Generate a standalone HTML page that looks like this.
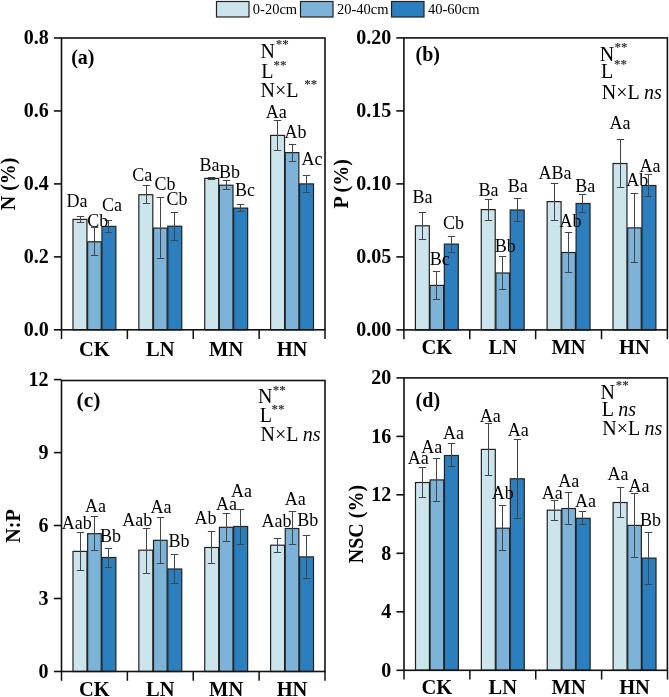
<!DOCTYPE html>
<html><head><meta charset="utf-8"><style>
html,body{margin:0;padding:0;background:#fff;}
svg{display:block;will-change:transform;}
text{font-family:"Liberation Serif", serif;fill:#000;}
.tick{font-size:20px;font-weight:bold;}
.cat{font-size:20.5px;font-weight:bold;}
.title{font-size:20px;font-weight:bold;}
.letter{font-size:20px;font-weight:bold;}
.stat{font-size:20px;}
.sup{font-size:13px;font-weight:bold;fill:#333;}
.lab{font-size:18px;}
.leg{font-size:14.5px;}
</style></head><body>
<svg width="669" height="697" viewBox="0 0 669 697">
<rect x="72.99" y="219.40" width="13.95" height="110.40" fill="#cce5ec" stroke="#222" stroke-width="1.2"/>
<rect x="87.64" y="241.80" width="13.60" height="88.00" fill="#7db3d8" stroke="#222" stroke-width="1.2"/>
<rect x="101.94" y="226.40" width="13.95" height="103.40" fill="#2b7fbe" stroke="#222" stroke-width="1.2"/>
<rect x="138.86" y="194.70" width="13.95" height="135.10" fill="#cce5ec" stroke="#222" stroke-width="1.2"/>
<rect x="153.51" y="228.10" width="13.60" height="101.70" fill="#7db3d8" stroke="#222" stroke-width="1.2"/>
<rect x="167.81" y="226.20" width="13.95" height="103.60" fill="#2b7fbe" stroke="#222" stroke-width="1.2"/>
<rect x="204.74" y="178.40" width="13.95" height="151.40" fill="#cce5ec" stroke="#222" stroke-width="1.2"/>
<rect x="219.39" y="185.20" width="13.60" height="144.60" fill="#7db3d8" stroke="#222" stroke-width="1.2"/>
<rect x="233.69" y="208.10" width="13.95" height="121.70" fill="#2b7fbe" stroke="#222" stroke-width="1.2"/>
<rect x="270.61" y="135.40" width="13.95" height="194.40" fill="#cce5ec" stroke="#222" stroke-width="1.2"/>
<rect x="285.26" y="152.60" width="13.60" height="177.20" fill="#7db3d8" stroke="#222" stroke-width="1.2"/>
<rect x="299.56" y="183.90" width="13.95" height="145.90" fill="#2b7fbe" stroke="#222" stroke-width="1.2"/>
<path d="M80.50 216.50V222.50M76.80 216.50H84.20M76.80 222.50H84.20" stroke="#444" stroke-width="1" fill="none"/>
<path d="M94.50 227.50V255.50M90.80 227.50H98.20M90.80 255.50H98.20" stroke="#444" stroke-width="1" fill="none"/>
<path d="M108.50 220.50V232.50M104.80 220.50H112.20M104.80 232.50H112.20" stroke="#444" stroke-width="1" fill="none"/>
<path d="M146.50 185.50V203.50M142.80 185.50H150.20M142.80 203.50H150.20" stroke="#444" stroke-width="1" fill="none"/>
<path d="M160.50 197.50V258.50M156.80 197.50H164.20M156.80 258.50H164.20" stroke="#444" stroke-width="1" fill="none"/>
<path d="M174.50 212.50V240.50M170.80 212.50H178.20M170.80 240.50H178.20" stroke="#444" stroke-width="1" fill="none"/>
<path d="M211.50 177.50V179.50M207.80 177.50H215.20M207.80 179.50H215.20" stroke="#444" stroke-width="1" fill="none"/>
<path d="M226.50 180.50V189.50M222.80 180.50H230.20M222.80 189.50H230.20" stroke="#444" stroke-width="1" fill="none"/>
<path d="M240.50 204.50V211.50M236.80 204.50H244.20M236.80 211.50H244.20" stroke="#444" stroke-width="1" fill="none"/>
<path d="M277.50 120.50V150.50M273.80 120.50H281.20M273.80 150.50H281.20" stroke="#444" stroke-width="1" fill="none"/>
<path d="M292.50 144.50V161.50M288.80 144.50H296.20M288.80 161.50H296.20" stroke="#444" stroke-width="1" fill="none"/>
<path d="M306.50 175.50V192.50M302.80 175.50H310.20M302.80 192.50H310.20" stroke="#444" stroke-width="1" fill="none"/>
<text x="66.40" y="207.40" class="lab">Da</text>
<text x="87.20" y="227.40" class="lab">Cb</text>
<text x="101.90" y="210.70" class="lab">Ca</text>
<text x="132.30" y="180.70" class="lab">Ca</text>
<text x="154.40" y="189.70" class="lab">Cb</text>
<text x="166.50" y="205.10" class="lab">Cb</text>
<text x="199.40" y="170.90" class="lab">Ba</text>
<text x="219.10" y="177.70" class="lab">Bb</text>
<text x="234.90" y="196.20" class="lab">Bc</text>
<text x="265.80" y="117.60" class="lab">Aa</text>
<text x="284.40" y="138.00" class="lab">Ab</text>
<text x="301.50" y="164.50" class="lab">Ac</text>
<rect x="61.5" y="38.0" width="263.50" height="291.80" fill="none" stroke="#111" stroke-width="1.6"/>
<path d="M53.90 329.8H61.5" stroke="#111" stroke-width="1.6"/>
<text x="48.7" y="336.10" class="tick" text-anchor="end">0.0</text>
<path d="M53.90 256.85H61.5" stroke="#111" stroke-width="1.6"/>
<text x="48.7" y="263.15" class="tick" text-anchor="end">0.2</text>
<path d="M53.90 183.9H61.5" stroke="#111" stroke-width="1.6"/>
<text x="48.7" y="190.20" class="tick" text-anchor="end">0.4</text>
<path d="M53.90 110.95H61.5" stroke="#111" stroke-width="1.6"/>
<text x="48.7" y="117.25" class="tick" text-anchor="end">0.6</text>
<path d="M53.90 38.0H61.5" stroke="#111" stroke-width="1.6"/>
<text x="48.7" y="44.30" class="tick" text-anchor="end">0.8</text>
<path d="M61.50 329.8V339.10" stroke="#111" stroke-width="1.5"/>
<path d="M127.38 329.8V339.10" stroke="#111" stroke-width="1.5"/>
<path d="M193.25 329.8V339.10" stroke="#111" stroke-width="1.5"/>
<path d="M259.12 329.8V339.10" stroke="#111" stroke-width="1.5"/>
<path d="M325.00 329.8V339.10" stroke="#111" stroke-width="1.5"/>
<text x="94.44" y="355.70" class="cat" text-anchor="middle">CK</text>
<text x="160.31" y="355.70" class="cat" text-anchor="middle">LN</text>
<text x="226.19" y="355.70" class="cat" text-anchor="middle">MN</text>
<text x="292.06" y="355.70" class="cat" text-anchor="middle">HN</text>
<text transform="translate(15.0 183.90) rotate(-90)" class="title" text-anchor="middle">N (%)</text>
<text x="71.2" y="63.8" class="letter" style="font-size:20px">(a)</text>
<text x="275.70" y="48.30" class="sup">**</text>
<text x="260.60" y="58.30" class="stat" xml:space="preserve">N</text>
<text x="273.50" y="68.50" class="sup">**</text>
<text x="261.20" y="77.50" class="stat" xml:space="preserve">L</text>
<text x="304.30" y="87.60" class="sup">**</text>
<text x="260.60" y="97.30" class="stat" xml:space="preserve">N×L</text>
<rect x="415.39" y="225.80" width="13.95" height="104.10" fill="#cce5ec" stroke="#222" stroke-width="1.2"/>
<rect x="430.04" y="285.40" width="13.60" height="44.50" fill="#7db3d8" stroke="#222" stroke-width="1.2"/>
<rect x="444.34" y="244.10" width="13.95" height="85.80" fill="#2b7fbe" stroke="#222" stroke-width="1.2"/>
<rect x="481.26" y="209.60" width="13.95" height="120.30" fill="#cce5ec" stroke="#222" stroke-width="1.2"/>
<rect x="495.91" y="273.00" width="13.60" height="56.90" fill="#7db3d8" stroke="#222" stroke-width="1.2"/>
<rect x="510.21" y="210.00" width="13.95" height="119.90" fill="#2b7fbe" stroke="#222" stroke-width="1.2"/>
<rect x="547.14" y="201.60" width="13.95" height="128.30" fill="#cce5ec" stroke="#222" stroke-width="1.2"/>
<rect x="561.79" y="252.50" width="13.60" height="77.40" fill="#7db3d8" stroke="#222" stroke-width="1.2"/>
<rect x="576.09" y="203.50" width="13.95" height="126.40" fill="#2b7fbe" stroke="#222" stroke-width="1.2"/>
<rect x="613.01" y="163.50" width="13.95" height="166.40" fill="#cce5ec" stroke="#222" stroke-width="1.2"/>
<rect x="627.66" y="227.90" width="13.60" height="102.00" fill="#7db3d8" stroke="#222" stroke-width="1.2"/>
<rect x="641.96" y="185.50" width="13.95" height="144.40" fill="#2b7fbe" stroke="#222" stroke-width="1.2"/>
<path d="M422.50 212.50V239.50M418.80 212.50H426.20M418.80 239.50H426.20" stroke="#444" stroke-width="1" fill="none"/>
<path d="M436.50 271.50V299.50M432.80 271.50H440.20M432.80 299.50H440.20" stroke="#444" stroke-width="1" fill="none"/>
<path d="M451.50 236.50V252.50M447.80 236.50H455.20M447.80 252.50H455.20" stroke="#444" stroke-width="1" fill="none"/>
<path d="M488.50 199.50V220.50M484.80 199.50H492.20M484.80 220.50H492.20" stroke="#444" stroke-width="1" fill="none"/>
<path d="M502.50 256.50V289.50M498.80 256.50H506.20M498.80 289.50H506.20" stroke="#444" stroke-width="1" fill="none"/>
<path d="M517.50 198.50V221.50M513.80 198.50H521.20M513.80 221.50H521.20" stroke="#444" stroke-width="1" fill="none"/>
<path d="M554.50 183.50V220.50M550.80 183.50H558.20M550.80 220.50H558.20" stroke="#444" stroke-width="1" fill="none"/>
<path d="M568.50 232.50V272.50M564.80 232.50H572.20M564.80 272.50H572.20" stroke="#444" stroke-width="1" fill="none"/>
<path d="M582.50 194.50V212.50M578.80 194.50H586.20M578.80 212.50H586.20" stroke="#444" stroke-width="1" fill="none"/>
<path d="M620.50 139.50V187.50M616.80 139.50H624.20M616.80 187.50H624.20" stroke="#444" stroke-width="1" fill="none"/>
<path d="M634.50 193.50V262.50M630.80 193.50H638.20M630.80 262.50H638.20" stroke="#444" stroke-width="1" fill="none"/>
<path d="M648.50 174.50V196.50M644.80 174.50H652.20M644.80 196.50H652.20" stroke="#444" stroke-width="1" fill="none"/>
<text x="412.60" y="202.90" class="lab">Ba</text>
<text x="429.70" y="265.10" class="lab">Bc</text>
<text x="443.00" y="229.10" class="lab">Cb</text>
<text x="478.50" y="196.10" class="lab">Ba</text>
<text x="494.70" y="252.10" class="lab">Bb</text>
<text x="507.80" y="192.20" class="lab">Ba</text>
<text x="538.40" y="178.80" class="lab">ABa</text>
<text x="559.40" y="227.40" class="lab">Ab</text>
<text x="575.20" y="191.70" class="lab">Ba</text>
<text x="609.60" y="129.30" class="lab">Aa</text>
<text x="626.30" y="186.20" class="lab">Ab</text>
<text x="639.40" y="172.20" class="lab">Aa</text>
<rect x="403.9" y="37.9" width="263.50" height="292.00" fill="none" stroke="#111" stroke-width="1.6"/>
<path d="M396.30 329.9H403.9" stroke="#111" stroke-width="1.6"/>
<text x="391.2" y="336.20" class="tick" text-anchor="end">0.00</text>
<path d="M396.30 256.9H403.9" stroke="#111" stroke-width="1.6"/>
<text x="391.2" y="263.20" class="tick" text-anchor="end">0.05</text>
<path d="M396.30 183.9H403.9" stroke="#111" stroke-width="1.6"/>
<text x="391.2" y="190.20" class="tick" text-anchor="end">0.10</text>
<path d="M396.30 110.9H403.9" stroke="#111" stroke-width="1.6"/>
<text x="391.2" y="117.20" class="tick" text-anchor="end">0.15</text>
<path d="M396.30 37.9H403.9" stroke="#111" stroke-width="1.6"/>
<text x="391.2" y="44.20" class="tick" text-anchor="end">0.20</text>
<path d="M403.90 329.9V339.20" stroke="#111" stroke-width="1.5"/>
<path d="M469.77 329.9V339.20" stroke="#111" stroke-width="1.5"/>
<path d="M535.65 329.9V339.20" stroke="#111" stroke-width="1.5"/>
<path d="M601.52 329.9V339.20" stroke="#111" stroke-width="1.5"/>
<path d="M667.40 329.9V339.20" stroke="#111" stroke-width="1.5"/>
<text x="436.84" y="354.00" class="cat" text-anchor="middle">CK</text>
<text x="502.71" y="354.00" class="cat" text-anchor="middle">LN</text>
<text x="568.59" y="354.00" class="cat" text-anchor="middle">MN</text>
<text x="634.46" y="354.00" class="cat" text-anchor="middle">HN</text>
<text transform="translate(347.7 183.90) rotate(-90)" class="title" text-anchor="middle">P (%)</text>
<text x="415.5" y="60.5" class="letter" style="font-size:20px">(b)</text>
<text x="614.50" y="51.10" class="sup">**</text>
<text x="599.80" y="61.10" class="stat" xml:space="preserve">N</text>
<text x="613.90" y="68.20" class="sup">**</text>
<text x="601.00" y="77.80" class="stat" xml:space="preserve">L</text>
<text x="601.80" y="98.90" class="stat" xml:space="preserve">N×L <tspan font-style="italic">ns</tspan></text>
<rect x="72.99" y="551.40" width="13.95" height="120.10" fill="#cce5ec" stroke="#222" stroke-width="1.2"/>
<rect x="87.64" y="533.70" width="13.60" height="137.80" fill="#7db3d8" stroke="#222" stroke-width="1.2"/>
<rect x="101.94" y="557.50" width="13.95" height="114.00" fill="#2b7fbe" stroke="#222" stroke-width="1.2"/>
<rect x="138.86" y="550.20" width="13.95" height="121.30" fill="#cce5ec" stroke="#222" stroke-width="1.2"/>
<rect x="153.51" y="540.30" width="13.60" height="131.20" fill="#7db3d8" stroke="#222" stroke-width="1.2"/>
<rect x="167.81" y="569.00" width="13.95" height="102.50" fill="#2b7fbe" stroke="#222" stroke-width="1.2"/>
<rect x="204.74" y="547.50" width="13.95" height="124.00" fill="#cce5ec" stroke="#222" stroke-width="1.2"/>
<rect x="219.39" y="527.30" width="13.60" height="144.20" fill="#7db3d8" stroke="#222" stroke-width="1.2"/>
<rect x="233.69" y="526.50" width="13.95" height="145.00" fill="#2b7fbe" stroke="#222" stroke-width="1.2"/>
<rect x="270.61" y="545.20" width="13.95" height="126.30" fill="#cce5ec" stroke="#222" stroke-width="1.2"/>
<rect x="285.26" y="528.50" width="13.60" height="143.00" fill="#7db3d8" stroke="#222" stroke-width="1.2"/>
<rect x="299.56" y="556.90" width="13.95" height="114.60" fill="#2b7fbe" stroke="#222" stroke-width="1.2"/>
<path d="M80.50 532.50V570.50M76.80 532.50H84.20M76.80 570.50H84.20" stroke="#444" stroke-width="1" fill="none"/>
<path d="M94.50 516.50V550.50M90.80 516.50H98.20M90.80 550.50H98.20" stroke="#444" stroke-width="1" fill="none"/>
<path d="M108.50 548.50V567.50M104.80 548.50H112.20M104.80 567.50H112.20" stroke="#444" stroke-width="1" fill="none"/>
<path d="M146.50 528.50V573.50M142.80 528.50H150.20M142.80 573.50H150.20" stroke="#444" stroke-width="1" fill="none"/>
<path d="M160.50 517.50V563.50M156.80 517.50H164.20M156.80 563.50H164.20" stroke="#444" stroke-width="1" fill="none"/>
<path d="M174.50 554.50V583.50M170.80 554.50H178.20M170.80 583.50H178.20" stroke="#444" stroke-width="1" fill="none"/>
<path d="M211.50 531.50V563.50M207.80 531.50H215.20M207.80 563.50H215.20" stroke="#444" stroke-width="1" fill="none"/>
<path d="M226.50 513.50V541.50M222.80 513.50H230.20M222.80 541.50H230.20" stroke="#444" stroke-width="1" fill="none"/>
<path d="M240.50 509.50V544.50M236.80 509.50H244.20M236.80 544.50H244.20" stroke="#444" stroke-width="1" fill="none"/>
<path d="M277.50 538.50V552.50M273.80 538.50H281.20M273.80 552.50H281.20" stroke="#444" stroke-width="1" fill="none"/>
<path d="M292.50 511.50V544.50M288.80 511.50H296.20M288.80 544.50H296.20" stroke="#444" stroke-width="1" fill="none"/>
<path d="M306.50 535.50V578.50M302.80 535.50H310.20M302.80 578.50H310.20" stroke="#444" stroke-width="1" fill="none"/>
<text x="61.80" y="528.80" class="lab">Aab</text>
<text x="84.90" y="511.70" class="lab">Aa</text>
<text x="100.00" y="542.30" class="lab">Bb</text>
<text x="122.20" y="526.30" class="lab">Aab</text>
<text x="150.50" y="513.40" class="lab">Aa</text>
<text x="168.60" y="547.00" class="lab">Bb</text>
<text x="194.40" y="524.40" class="lab">Ab</text>
<text x="216.10" y="510.30" class="lab">Aa</text>
<text x="231.00" y="497.40" class="lab">Aa</text>
<text x="261.60" y="527.20" class="lab">Aab</text>
<text x="284.80" y="504.50" class="lab">Aa</text>
<text x="297.20" y="525.80" class="lab">Bb</text>
<rect x="61.5" y="380.5" width="263.50" height="291.00" fill="none" stroke="#111" stroke-width="1.6"/>
<path d="M53.90 671.5H61.5" stroke="#111" stroke-width="1.6"/>
<text x="48.5" y="677.80" class="tick" text-anchor="end">0</text>
<path d="M53.90 598.5H61.5" stroke="#111" stroke-width="1.6"/>
<text x="48.5" y="604.80" class="tick" text-anchor="end">3</text>
<path d="M53.90 525.5H61.5" stroke="#111" stroke-width="1.6"/>
<text x="48.5" y="531.80" class="tick" text-anchor="end">6</text>
<path d="M53.90 452.6H61.5" stroke="#111" stroke-width="1.6"/>
<text x="48.5" y="458.90" class="tick" text-anchor="end">9</text>
<path d="M53.90 379.6H61.5" stroke="#111" stroke-width="1.6"/>
<text x="48.5" y="385.90" class="tick" text-anchor="end">12</text>
<path d="M61.50 671.5V680.80" stroke="#111" stroke-width="1.5"/>
<path d="M127.38 671.5V680.80" stroke="#111" stroke-width="1.5"/>
<path d="M193.25 671.5V680.80" stroke="#111" stroke-width="1.5"/>
<path d="M259.12 671.5V680.80" stroke="#111" stroke-width="1.5"/>
<path d="M325.00 671.5V680.80" stroke="#111" stroke-width="1.5"/>
<text x="94.44" y="695.60" class="cat" text-anchor="middle">CK</text>
<text x="160.31" y="695.60" class="cat" text-anchor="middle">LN</text>
<text x="226.19" y="695.60" class="cat" text-anchor="middle">MN</text>
<text x="292.06" y="695.60" class="cat" text-anchor="middle">HN</text>
<text transform="translate(20.2 526.00) rotate(-90)" class="title" text-anchor="middle">N:P</text>
<text x="76.5" y="406.9" class="letter" style="font-size:21.5px">(c)</text>
<text x="272.70" y="393.50" class="sup">**</text>
<text x="257.90" y="402.50" class="stat" xml:space="preserve">N</text>
<text x="271.50" y="412.90" class="sup">**</text>
<text x="259.80" y="422.00" class="stat" xml:space="preserve">L</text>
<text x="260.60" y="440.60" class="stat" xml:space="preserve">N×L <tspan font-style="italic">ns</tspan></text>
<rect x="415.49" y="482.50" width="13.95" height="187.80" fill="#cce5ec" stroke="#222" stroke-width="1.2"/>
<rect x="430.14" y="479.90" width="13.60" height="190.40" fill="#7db3d8" stroke="#222" stroke-width="1.2"/>
<rect x="444.44" y="455.50" width="13.95" height="214.80" fill="#2b7fbe" stroke="#222" stroke-width="1.2"/>
<rect x="481.36" y="449.40" width="13.95" height="220.90" fill="#cce5ec" stroke="#222" stroke-width="1.2"/>
<rect x="496.01" y="528.20" width="13.60" height="142.10" fill="#7db3d8" stroke="#222" stroke-width="1.2"/>
<rect x="510.31" y="478.80" width="13.95" height="191.50" fill="#2b7fbe" stroke="#222" stroke-width="1.2"/>
<rect x="547.24" y="510.20" width="13.95" height="160.10" fill="#cce5ec" stroke="#222" stroke-width="1.2"/>
<rect x="561.89" y="508.50" width="13.60" height="161.80" fill="#7db3d8" stroke="#222" stroke-width="1.2"/>
<rect x="576.19" y="518.30" width="13.95" height="152.00" fill="#2b7fbe" stroke="#222" stroke-width="1.2"/>
<rect x="613.11" y="502.50" width="13.95" height="167.80" fill="#cce5ec" stroke="#222" stroke-width="1.2"/>
<rect x="627.76" y="525.40" width="13.60" height="144.90" fill="#7db3d8" stroke="#222" stroke-width="1.2"/>
<rect x="642.06" y="558.10" width="13.95" height="112.20" fill="#2b7fbe" stroke="#222" stroke-width="1.2"/>
<path d="M422.50 467.50V497.50M418.80 467.50H426.20M418.80 497.50H426.20" stroke="#444" stroke-width="1" fill="none"/>
<path d="M436.50 458.50V501.50M432.80 458.50H440.20M432.80 501.50H440.20" stroke="#444" stroke-width="1" fill="none"/>
<path d="M451.50 443.50V466.50M447.80 443.50H455.20M447.80 466.50H455.20" stroke="#444" stroke-width="1" fill="none"/>
<path d="M488.50 423.50V475.50M484.80 423.50H492.20M484.80 475.50H492.20" stroke="#444" stroke-width="1" fill="none"/>
<path d="M502.50 505.50V550.50M498.80 505.50H506.20M498.80 550.50H506.20" stroke="#444" stroke-width="1" fill="none"/>
<path d="M517.50 439.50V518.50M513.80 439.50H521.20M513.80 518.50H521.20" stroke="#444" stroke-width="1" fill="none"/>
<path d="M554.50 500.50V520.50M550.80 500.50H558.20M550.80 520.50H558.20" stroke="#444" stroke-width="1" fill="none"/>
<path d="M568.50 492.50V524.50M564.80 492.50H572.20M564.80 524.50H572.20" stroke="#444" stroke-width="1" fill="none"/>
<path d="M582.50 511.50V524.50M578.80 511.50H586.20M578.80 524.50H586.20" stroke="#444" stroke-width="1" fill="none"/>
<path d="M620.50 487.50V517.50M616.80 487.50H624.20M616.80 517.50H624.20" stroke="#444" stroke-width="1" fill="none"/>
<path d="M634.50 493.50V557.50M630.80 493.50H638.20M630.80 557.50H638.20" stroke="#444" stroke-width="1" fill="none"/>
<path d="M648.50 532.50V584.50M644.80 532.50H652.20M644.80 584.50H652.20" stroke="#444" stroke-width="1" fill="none"/>
<text x="407.70" y="464.30" class="lab">Aa</text>
<text x="421.20" y="453.40" class="lab">Aa</text>
<text x="443.00" y="439.40" class="lab">Aa</text>
<text x="479.80" y="421.60" class="lab">Aa</text>
<text x="491.80" y="499.00" class="lab">Ab</text>
<text x="507.80" y="436.30" class="lab">Aa</text>
<text x="541.80" y="499.20" class="lab">Aa</text>
<text x="558.20" y="486.70" class="lab">Aa</text>
<text x="574.90" y="507.00" class="lab">Aa</text>
<text x="607.60" y="480.40" class="lab">Aa</text>
<text x="628.60" y="491.50" class="lab">Aa</text>
<text x="640.10" y="526.10" class="lab">Bb</text>
<rect x="404.0" y="377.9" width="263.40" height="292.40" fill="none" stroke="#111" stroke-width="1.6"/>
<path d="M396.40 670.3H404.0" stroke="#111" stroke-width="1.6"/>
<text x="391.2" y="676.60" class="tick" text-anchor="end">0</text>
<path d="M396.40 611.8H404.0" stroke="#111" stroke-width="1.6"/>
<text x="391.2" y="618.10" class="tick" text-anchor="end">4</text>
<path d="M396.40 553.3H404.0" stroke="#111" stroke-width="1.6"/>
<text x="391.2" y="559.60" class="tick" text-anchor="end">8</text>
<path d="M396.40 494.8H404.0" stroke="#111" stroke-width="1.6"/>
<text x="391.2" y="501.10" class="tick" text-anchor="end">12</text>
<path d="M396.40 436.4H404.0" stroke="#111" stroke-width="1.6"/>
<text x="391.2" y="442.70" class="tick" text-anchor="end">16</text>
<path d="M396.40 377.9H404.0" stroke="#111" stroke-width="1.6"/>
<text x="391.2" y="384.20" class="tick" text-anchor="end">20</text>
<path d="M404.00 670.3V679.60" stroke="#111" stroke-width="1.5"/>
<path d="M469.88 670.3V679.60" stroke="#111" stroke-width="1.5"/>
<path d="M535.75 670.3V679.60" stroke="#111" stroke-width="1.5"/>
<path d="M601.62 670.3V679.60" stroke="#111" stroke-width="1.5"/>
<path d="M667.50 670.3V679.60" stroke="#111" stroke-width="1.5"/>
<text x="436.94" y="694.00" class="cat" text-anchor="middle">CK</text>
<text x="502.81" y="694.00" class="cat" text-anchor="middle">LN</text>
<text x="568.69" y="694.00" class="cat" text-anchor="middle">MN</text>
<text x="634.56" y="694.00" class="cat" text-anchor="middle">HN</text>
<text transform="translate(362.9 524.10) rotate(-90)" class="title" text-anchor="middle">NSC (%)</text>
<text x="415.6" y="407.0" class="letter" style="font-size:20px">(d)</text>
<text x="615.70" y="389.10" class="sup">**</text>
<text x="600.60" y="399.10" class="stat" xml:space="preserve">N</text>
<text x="601.80" y="415.80" class="stat" xml:space="preserve">L <tspan font-style="italic">ns</tspan></text>
<text x="602.20" y="434.70" class="stat" xml:space="preserve">N×L <tspan font-style="italic">ns</tspan></text>
<rect x="216.5" y="1.5" width="32.5" height="15.5" fill="#cce5ec" stroke="#222" stroke-width="1.2"/>
<text x="252.8" y="14.3" class="leg">0-20cm</text>
<rect x="300.5" y="1.5" width="32.5" height="15.5" fill="#7db3d8" stroke="#222" stroke-width="1.2"/>
<text x="337" y="14.3" class="leg">20-40cm</text>
<rect x="391.5" y="1.5" width="32.5" height="15.5" fill="#2b7fbe" stroke="#222" stroke-width="1.2"/>
<text x="428" y="14.3" class="leg">40-60cm</text>
</svg>
</body></html>
